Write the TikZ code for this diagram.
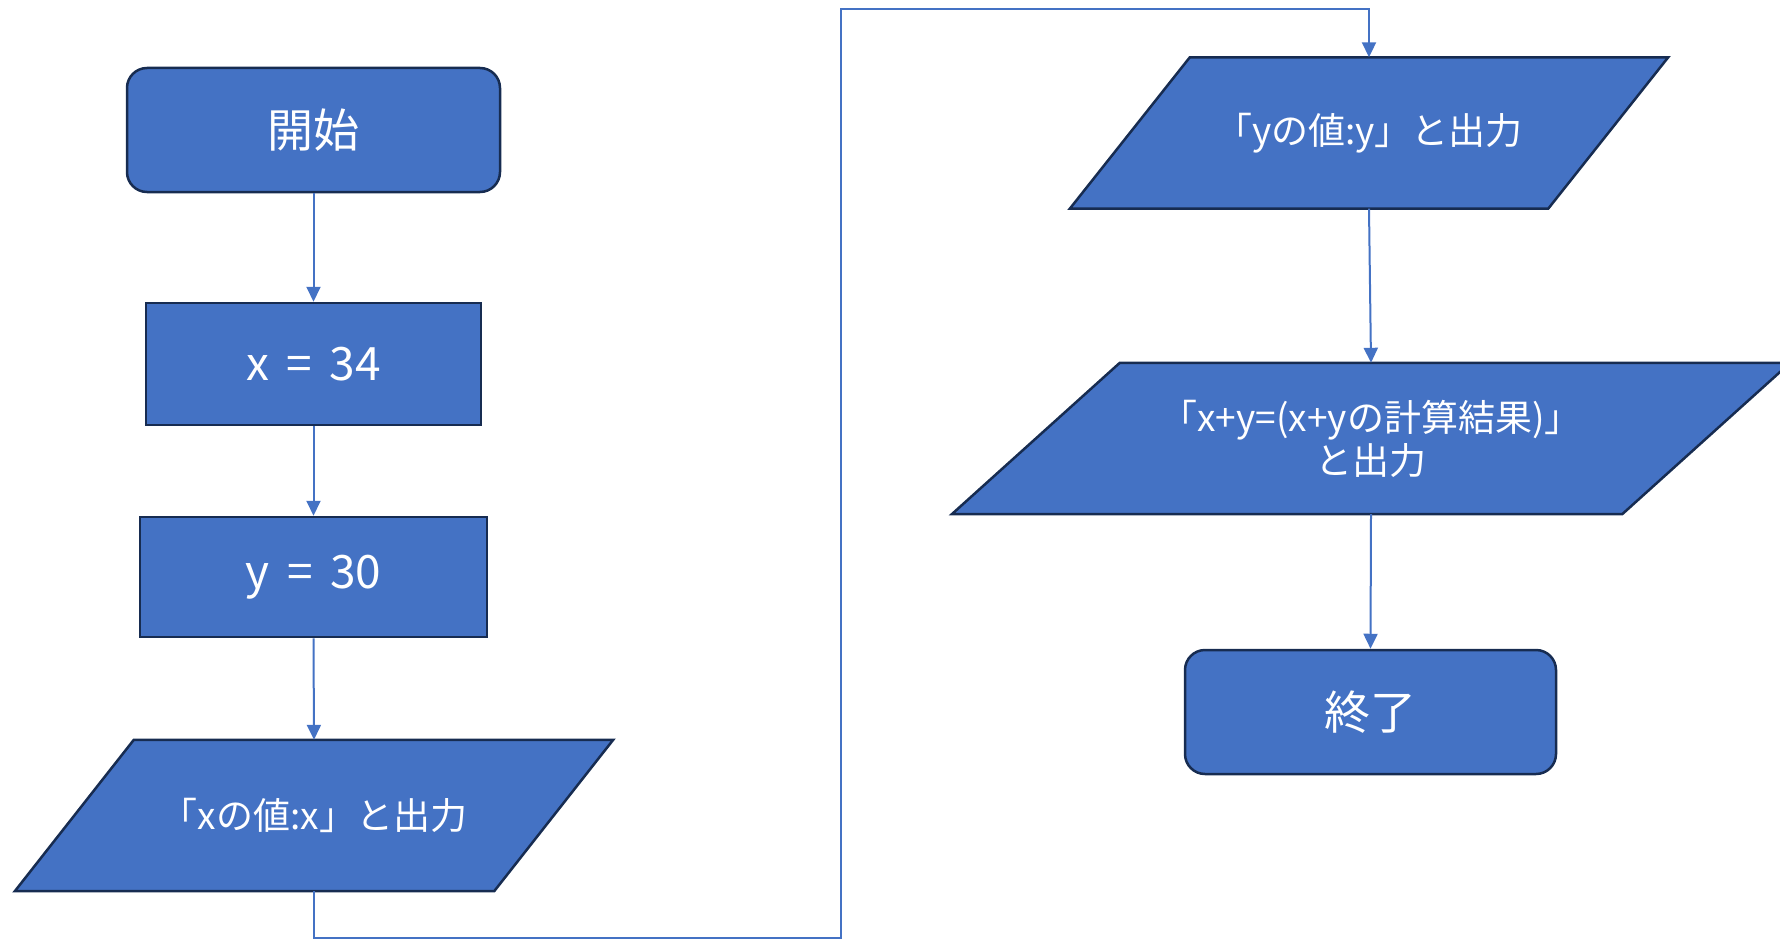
\documentclass[tikz,border=0pt]{standalone}
\usepackage{fontspec}
\newfontfamily\jpfont[WordSpace=1.7]{Noto Sans CJK JP}
\usetikzlibrary{arrows.meta, backgrounds}

\definecolor{flowBlue}{HTML}{4472C4}
\definecolor{flowNavy}{HTML}{172C51}

\begin{document}
\begin{tikzpicture}[x=1pt, y=-1pt,
	baseBox/.style={fill=flowBlue, draw=flowNavy, line width=2.5pt, inner sep=0pt, text=white, align=center},
	termBox/.style={baseBox, rectangle, rounded corners=20pt, minimum width=373pt, minimum height=124pt, font=\jpfont\fontsize{46}{52}\selectfont},
	procBox/.style={baseBox, rectangle, minimum height=122pt, font=\jpfont\fontsize{46}{52}\selectfont},
	ioBox/.style={rectangle, inner sep=0pt, minimum height=151pt, text=white, align=center, font=\jpfont\fontsize{37}{43}\selectfont},
	ioFill/.style={fill=flowBlue, draw=flowNavy, line width=2.5pt, line join=miter},
	flow/.style={draw=flowBlue, line width=2pt, -{Triangle[length=15pt, width=14pt]}}]

	\useasboundingbox (0,0) rectangle (1780,939);

	% left column
	\node[termBox](startBox) at (313.5,130){開始};
	\node[procBox, minimum width=335pt](xBox) at (313.5,364){x = 34};
	\node[procBox, minimum width=347pt, minimum height=120pt](yBox) at (313.5,577){y = 30};
	\node[ioBox, minimum width=479pt](outXBox) at (314,815.5){「xの値:x」と出力};

	% right column
	\node[ioBox, minimum width=478pt](outYBox) at (1369,133){「yの値:y」と出力};
	\node[ioBox, minimum width=670pt](outSumBox) at (1371,438.5){「x+y=(x+yの計算結果)」\\と出力};
	\node[termBox, minimum width=371pt](endBox) at (1370.5,712){終了};

	% parallelograms behind the output texts
	\begin{pgfonlayer}{background}
		\filldraw[ioFill] ([xshift=59.5pt]outXBox.north west) -- ([xshift=59.5pt]outXBox.north east) -- ([xshift=-59.5pt]outXBox.south east) -- ([xshift=-59.5pt]outXBox.south west) -- cycle;
		\filldraw[ioFill] ([xshift=60pt]outYBox.north west) -- ([xshift=60pt]outYBox.north east) -- ([xshift=-60pt]outYBox.south east) -- ([xshift=-60pt]outYBox.south west) -- cycle;
		\filldraw[ioFill] ([xshift=84pt]outSumBox.north west) -- ([xshift=84pt]outSumBox.north east) -- ([xshift=-84pt]outSumBox.south east) -- ([xshift=-84pt]outSumBox.south west) -- cycle;
	\end{pgfonlayer}

	% loop round to the right column
	\coordinate (loopLow) at (841,938);
	\coordinate (loopHigh) at (841,9);

	% draw flow edges
	\draw[flow] (startBox.south) -- (xBox.north);
	\draw[flow] (xBox.south) -- (yBox.north);
	\draw[flow] (yBox.south) -- (outXBox.north);
	\draw[flow] (outXBox.south) |- (loopLow) -- (loopHigh) -| (outYBox.north);
	\draw[flow] (outYBox.south) -- (outSumBox.north);
	\draw[flow] (outSumBox.south) -- (endBox.north);
\end{tikzpicture}
\end{document}
